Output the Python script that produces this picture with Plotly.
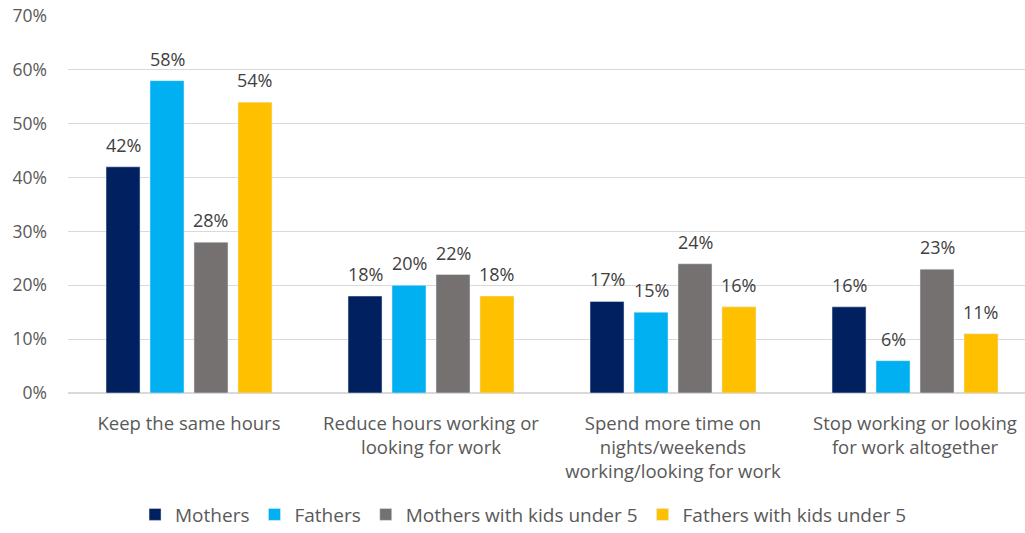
import plotly.graph_objects as go

categories = [
    "Keep the same hours",
    "Reduce hours working or<br>looking for work",
    "Spend more time on<br>nights/weekends<br>working/looking for work",
    "Stop working or looking<br>for work altogether",
]
series_names = ["Mothers", "Fathers", "Mothers with kids under 5", "Fathers with kids under 5"]
mothers = [42, 18, 17, 16]
fathers = [58, 20, 15, 6]
mothers_u5 = [28, 22, 24, 23]
fathers_u5 = [54, 18, 16, 11]
y_ticks = [0, 10, 20, 30, 40, 50, 60, 70]
y_tick_labels = ["0%", "10%", "20%", "30%", "40%", "50%", "60%", "70%"]

colors = ["#002060", "#00B0F0", "#767171", "#FFC000"]
text_color = "#595959"
font_family = "Open Sans, Liberation Sans, sans-serif"

bargap = 0.273
all_series = [mothers, fathers, mothers_u5, fathers_u5]
n_series = len(all_series)
slot = (1 - bargap) / n_series

fig = go.Figure()
annotations = []
for j, (name, vals, col) in enumerate(zip(series_names, all_series, colors)):
    fig.add_trace(go.Bar(
        name=name,
        x=list(range(len(categories))),
        y=vals,
        marker=dict(color=col),
    ))
    # value labels above each bar
    for i, v in enumerate(vals):
        annotations.append(dict(
            x=i + (j - (n_series - 1) / 2) * slot,
            y=v,
            xref="x",
            yref="y",
            text=f"{v}%",
            showarrow=False,
            yanchor="bottom",
            yshift=8,
            font=dict(size=18, color="#404040", family=font_family),
        ))

fig.update_layout(
    width=1025,
    height=533,
    margin=dict(l=68, r=0, t=16, b=140, autoexpand=False),
    paper_bgcolor="white",
    plot_bgcolor="white",
    barmode="group",
    bargap=bargap,
    bargroupgap=0.227,
    font=dict(family=font_family, color=text_color, size=18),
    showlegend=True,
    annotations=annotations,
    legend=dict(
        orientation="h",
        x=0.476,
        xanchor="center",
        y=-0.272,
        yanchor="top",
        font=dict(size=19, color=text_color),
        itemwidth=30,
        traceorder="normal",
    ),
)
fig.update_xaxes(
    tickmode="array",
    tickvals=list(range(len(categories))),
    ticktext=categories,
    range=[-0.5, 3.4545],
    showgrid=False,
    showline=True,
    linecolor="#D9D9D9",
    linewidth=1,
    ticks="",
    tickfont=dict(size=18.5, color=text_color),
    ticklabelstandoff=14,
    automargin=False,
)
fig.update_yaxes(
    range=[0, 70],
    tickmode="array",
    tickvals=y_ticks,
    ticktext=y_tick_labels,
    showgrid=True,
    gridcolor="#D9D9D9",
    gridwidth=1,
    zeroline=True,
    zerolinecolor="#D9D9D9",
    showline=False,
    ticks="",
    tickfont=dict(size=17.5, color=text_color),
    ticklabelstandoff=20,
    automargin=False,
)

fig.write_html("out.html")
